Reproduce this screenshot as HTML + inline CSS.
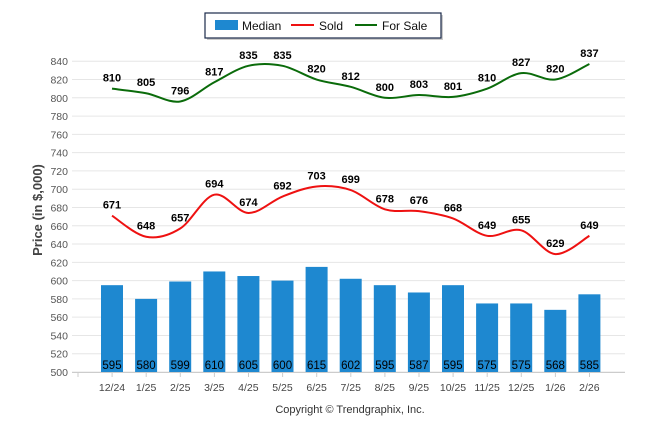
<!DOCTYPE html><html><head><style>body{margin:0;background:#fff}svg{display:block;font-family:"Liberation Sans",Arial,sans-serif}</style></head><body>
<svg id="s" width="646" height="434" xmlns="http://www.w3.org/2000/svg"></svg>
<script>
const fs=[810,805,796,817,835,835,820,812,800,803,801,810,827,820,837];
const so=[671,648,657,694,674,692,703,699,678,676,668,649,655,629,649];
const md=[595,580,599,610,605,600,615,602,595,587,595,575,575,568,585];
const lb=["12/24","1/25","2/25","3/25","4/25","5/25","6/25","7/25","8/25","9/25","10/25","11/25","12/25","1/26","2/26"];
const Y=v=>372-(v-500)*0.914, X=i=>112+i*34.1;
let h='';
for(let v=500;v<=840;v+=20){h+=`<line x1="72" x2="625" y1="${Y(v)}" y2="${Y(v)}" stroke="#e6e6e6"/><text x="68" y="${Y(v)+4}" font-size="10.5" fill="#555" text-anchor="end">${v}</text>`;}
h+=`<line x1="72" x2="625" y1="372.5" y2="372.5" stroke="#ccc"/>`;
for(let i=0;i<=15;i++){const x=78+i*34.1;h+=`<line x1="${x}" x2="${x}" y1="372" y2="377" stroke="#ccc"/>`;}
md.forEach((v,i)=>{h+=`<rect x="${X(i)-11}" y="${Y(v)}" width="22" height="${372-Y(v)}" fill="#1e88d0"/><text x="${X(i)}" y="369" font-size="11.5" text-anchor="middle" fill="#000">${v}</text><text x="${X(i)}" y="391" font-size="10.5" text-anchor="middle" fill="#444">${lb[i]}</text>`;});
function path(a){const p=a.map((v,i)=>[X(i),Y(v)]);let d=`M${p[0][0]},${p[0][1]}`;for(let i=0;i<p.length-1;i++){const p0=p[Math.max(0,i-1)],p1=p[i],p2=p[i+1],p3=p[Math.min(p.length-1,i+2)];const t=6;d+=` C${p1[0]+(p2[0]-p0[0])/t},${p1[1]+(p2[1]-p0[1])/t} ${p2[0]-(p3[0]-p1[0])/t},${p2[1]-(p3[1]-p1[1])/t} ${p2[0]},${p2[1]}`;}return d;}
h+=`<path d="${path(fs)}" fill="none" stroke="#0a6b0a" stroke-width="2"/>`;
h+=`<path d="${path(so)}" fill="none" stroke="#ee1111" stroke-width="2"/>`;
[fs,so].forEach(a=>a.forEach((v,i)=>{h+=`<text x="${X(i)}" y="${Y(v)-7}" font-size="11" font-weight="bold" text-anchor="middle" fill="#000">${v}</text>`;}));
h+=`<text transform="translate(42,210) rotate(-90)" font-size="13" font-weight="bold" fill="#444" text-anchor="middle">Price (in $,000)</text>`;
h+=`<text x="350" y="413" font-size="11" fill="#333" text-anchor="middle">Copyright © Trendgraphix, Inc.</text>`;
h+=`<rect x="207" y="15" width="236" height="25" fill="#999" opacity="0.5"/><rect x="205" y="13" width="236" height="25" fill="#fff" stroke="#1a2a4a" stroke-width="1.2"/>`;
h+=`<rect x="215" y="20" width="23" height="10" fill="#1e88d0"/><text x="242" y="30" font-size="12" fill="#111">Median</text>`;
h+=`<line x1="291" x2="314" y1="25" y2="25" stroke="#ee1111" stroke-width="2"/><text x="319" y="30" font-size="12" fill="#111">Sold</text>`;
h+=`<line x1="355" x2="377" y1="25" y2="25" stroke="#0a6b0a" stroke-width="2"/><text x="382" y="30" font-size="12" fill="#111">For Sale</text>`;
document.getElementById('s').innerHTML=h;
</script></body></html>
